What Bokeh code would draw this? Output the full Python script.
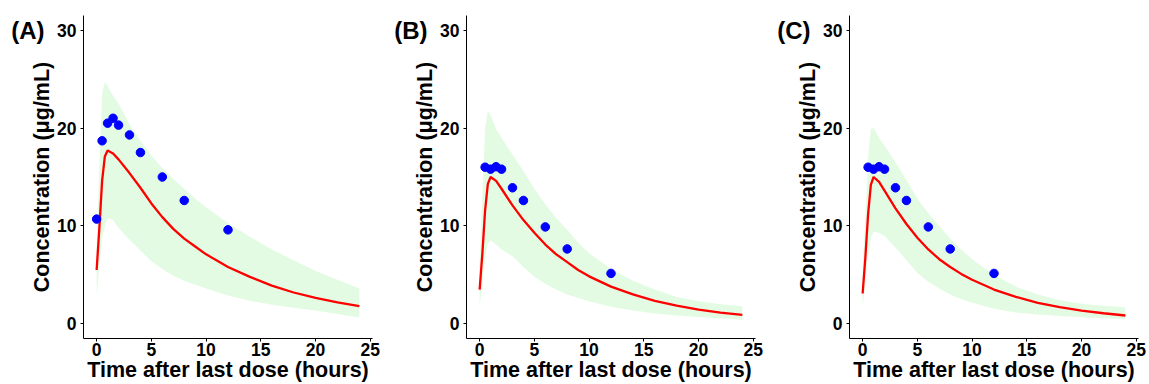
from bokeh.plotting import figure
from bokeh.layouts import row
from bokeh.models import FixedTicker, Range1d, LinearAxis
from bokeh.embed import file_html
from bokeh.resources import INLINE

# ---- data ----
t_grid = [0, 0.25, 0.5, 0.75, 1, 1.5, 2, 3, 4, 5, 6, 7, 8, 9, 10, 12, 14, 16, 18, 20, 22, 24]

pred_A = [5.5, 9.8, 14.6, 17.1, 17.7, 17.4, 16.8, 15.4, 13.9, 12.3, 10.9, 9.7, 8.7, 7.9, 7.1, 5.8, 4.8, 3.9, 3.2, 2.65, 2.2, 1.8]
upper_A = [8.0, 16.0, 23.5, 24.7, 24.3, 23.3, 22.5, 20.4, 18.7, 17.2, 15.9, 14.8, 13.8, 12.8, 11.9, 10.3, 8.9, 7.6, 6.5, 5.4, 4.5, 3.6]
lower_A = [2.8, 6.0, 8.8, 10.0, 10.8, 10.6, 9.8, 8.6, 7.5, 6.4, 5.6, 4.9, 4.4, 4.0, 3.6, 2.9, 2.35, 1.95, 1.65, 1.35, 1.0, 0.65]

pred_B = [3.5, 7.2, 11.6, 14.3, 15.0, 14.6, 13.8, 12.1, 10.6, 9.3, 8.1, 7.1, 6.3, 5.5, 4.85, 3.8, 3.0, 2.35, 1.85, 1.45, 1.15, 0.92]
upper_B = [6.0, 13.0, 20.0, 21.8, 21.3, 19.9, 19.0, 17.3, 15.6, 13.8, 12.2, 10.8, 9.6, 8.3, 7.2, 5.6, 4.4, 3.5, 2.75, 2.3, 2.0, 1.8]
lower_B = [1.9, 4.0, 6.8, 8.2, 8.5, 8.1, 7.6, 6.9, 5.8, 4.8, 4.1, 3.5, 3.0, 2.65, 2.3, 1.75, 1.35, 1.05, 0.85, 0.7, 0.55, 0.42]

pred_C = [3.1, 6.8, 11.2, 14.2, 15.0, 14.5, 13.6, 11.8, 10.2, 8.8, 7.6, 6.6, 5.8, 5.1, 4.5, 3.5, 2.75, 2.15, 1.7, 1.35, 1.08, 0.85]
upper_C = [5.5, 11.0, 17.0, 19.9, 20.0, 19.0, 18.2, 16.5, 14.7, 12.8, 11.3, 10.0, 8.7, 7.6, 6.6, 5.0, 3.8, 3.0, 2.4, 2.05, 1.85, 1.7]
lower_C = [1.7, 4.0, 7.0, 8.8, 9.4, 9.3, 9.0, 7.8, 6.5, 5.2, 4.3, 3.6, 3.0, 2.5, 2.15, 1.55, 1.15, 0.95, 0.8, 0.68, 0.58, 0.5]

obs_t_A = [0, 0.5, 1, 1.5, 2, 3, 4, 6, 8, 12]
obs_c_A = [10.7, 18.7, 20.5, 21.0, 20.3, 19.3, 17.5, 15.0, 12.6, 9.6]
obs_t_B = [0.5, 1, 1.5, 2, 3, 4, 6, 8, 12]
obs_c_B = [16.0, 15.8, 16.05, 15.8, 13.9, 12.6, 9.9, 7.65, 5.15]
obs_t_C = [0.5, 1, 1.5, 2, 3, 4, 6, 8, 12]
obs_c_C = [16.0, 15.8, 16.05, 15.8, 13.9, 12.6, 9.9, 7.65, 5.15]

panel_labels = ["(A)", "(B)", "(C)"]
x_ticks = [0, 5, 10, 15, 20, 25]
y_ticks = [0, 10, 20, 30]
x_title = "Time after last dose (hours)"
y_title = "Concentration (\u03bcg/mL)"

FONT = "Liberation Sans"


def make_panel(label, pred, upper, lower, ot, oc):
    p = figure(width=383, height=384, output_backend="svg", toolbar_location=None,
               x_range=Range1d(-1.2, 25.2), y_range=Range1d(-1.5, 31.5),
               min_border_left=83, min_border_right=11,
               min_border_top=15, min_border_bottom=46)
    p.outline_line_color = None
    p.grid.visible = False
    p.background_fill_color = "white"
    p.border_fill_color = "white"

    p.varea(x=t_grid, y1=lower, y2=upper, fill_color="#90EE90", fill_alpha=0.25)
    p.line(t_grid, pred, line_color="#FF0000", line_width=2.3)
    p.scatter(ot, oc, size=8.5, fill_color="#0000FF", line_color="#0000FF")

    for ax in (p.xaxis[0], p.yaxis[0]):
        ax.axis_line_color = "black"
        ax.axis_line_width = 1
        ax.major_tick_line_color = "black"
        ax.major_tick_in = 0
        ax.major_tick_out = 3
        ax.minor_tick_line_color = None
        ax.major_label_text_font = FONT
        ax.major_label_text_font_style = "bold"
        ax.major_label_text_font_size = "17.5px"
        ax.major_label_text_color = "black"
        ax.axis_label_text_font = FONT
        ax.axis_label_text_font_style = "bold"
        ax.axis_label_text_font_size = "21.5px"
        ax.axis_label_text_color = "black"

    p.xaxis.ticker = FixedTicker(ticks=x_ticks)
    p.yaxis.ticker = FixedTicker(ticks=y_ticks)
    p.xaxis.axis_label = x_title
    p.yaxis.axis_label = y_title
    p.xaxis.major_label_standoff = 1
    p.xaxis.axis_label_standoff = -1
    p.yaxis.major_label_standoff = 4
    p.yaxis.axis_label_standoff = 0

    # panel tag "(A)" etc. as the single label of an extra, invisible left axis
    tag = LinearAxis(ticker=FixedTicker(ticks=[30]), major_label_overrides={30: label},
                     axis_line_color=None, major_tick_line_color=None,
                     minor_tick_line_color=None, major_tick_in=0, major_tick_out=0,
                     major_label_standoff=-17,
                     major_label_text_font=FONT, major_label_text_font_style="bold",
                     major_label_text_font_size="24px", major_label_text_color="black")
    p.add_layout(tag, "left")
    return p


pA = make_panel(panel_labels[0], pred_A, upper_A, lower_A, obs_t_A, obs_c_A)
pB = make_panel(panel_labels[1], pred_B, upper_B, lower_B, obs_t_B, obs_c_B)
pC = make_panel(panel_labels[2], pred_C, upper_C, lower_C, obs_t_C, obs_c_C)

layout = row(pA, pB, pC)
open("out.html", "w").write(file_html(layout, INLINE))
